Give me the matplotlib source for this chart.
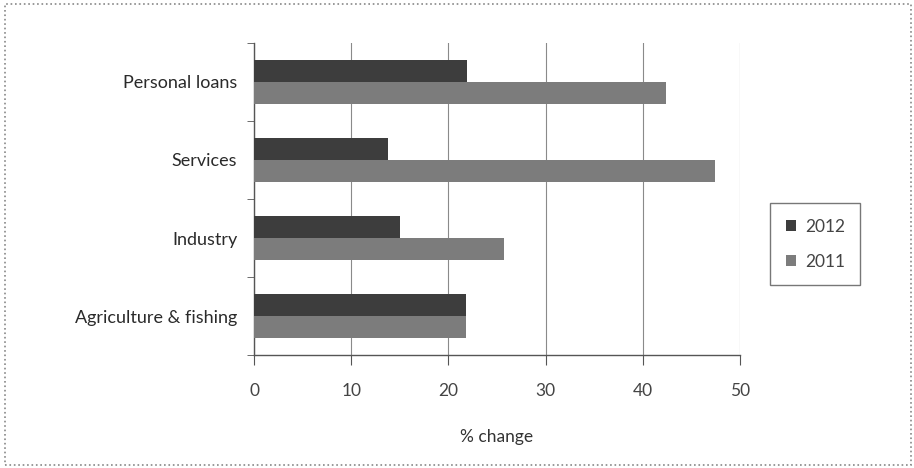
import matplotlib.pyplot as plt
from matplotlib.patches import Rectangle
import numpy as np

plt.rcParams['font.family'] = ['Lato', 'DejaVu Sans']

categories = ['Personal loans', 'Services', 'Industry', 'Agriculture & fishing']
change_2012 = [21.9, 13.8, 15.0, 21.8]
change_2011 = [42.4, 47.4, 25.7, 21.8]
xticks = [0, 10, 20, 30, 40, 50]

fig = plt.figure(figsize=(9.14, 4.68), dpi=100)
ax = fig.add_axes([254 / 914, 113 / 468, 486 / 914, 312 / 468])

# categories from top to bottom
y = np.arange(len(categories))[::-1]
h = 0.28
ax.barh(y + h / 2, change_2012, height=h, color='#3d3d3d', label='2012', zorder=3)
ax.barh(y - h / 2, change_2011, height=h, color='#7c7c7c', label='2011', zorder=3)

ax.set_xlim(0, 50)
ax.set_ylim(-0.5, len(categories) - 0.5)
ax.set_xticks(xticks)
ax.set_xticklabels([str(t) for t in xticks])
ax.xaxis.grid(True, color='#8a8a8a', linewidth=0.8, zorder=0)

# category labels at centres, tick marks at the boundaries
ax.set_yticks(y)
ax.set_yticklabels(categories)
ax.set_yticks(np.arange(len(categories) + 1) - 0.5, minor=True)
ax.tick_params(axis='y', which='major', length=0, pad=12, labelsize=13, labelcolor='#2a2a2a')
ax.tick_params(axis='y', which='minor', length=5, color='#555555', direction='out')
ax.tick_params(axis='x', length=7, color='#555555', pad=13, labelsize=12.5, labelcolor='#444444')

for s in ['top', 'right']:
    ax.spines[s].set_visible(False)
for s in ['left', 'bottom']:
    ax.spines[s].set_color('#555555')
    ax.spines[s].set_linewidth(1.0)

ax.set_xlabel('% change', fontsize=12.5, color='#333333', labelpad=22)

leg = fig.legend(loc='upper left', bbox_to_anchor=(770 / 914, 1 - 203 / 468),
                 borderaxespad=0, handlelength=0.6, handleheight=0.6,
                 handletextpad=0.5, labelspacing=1.1, borderpad=0.9,
                 fancybox=False, edgecolor='#555555', fontsize=12.5)
for t in leg.get_texts():
    t.set_color('#444444')

# dotted frame round the whole picture
fig.patches.append(Rectangle((5 / 914, 3 / 468), 906 / 914, 461 / 468,
                             transform=fig.transFigure, fill=False,
                             edgecolor='#888888', linestyle=':', linewidth=1.2))

fig.savefig('out.png', dpi=100)
